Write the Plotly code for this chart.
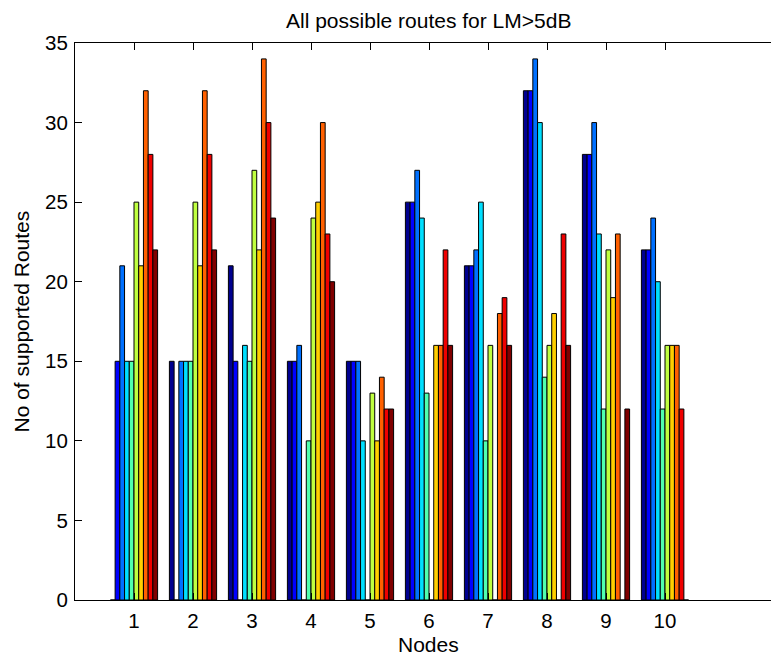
import plotly.graph_objects as go

nodes = [1, 2, 3, 4, 5, 6, 7, 8, 9, 10]
y_ticks = [0, 5, 10, 15, 20, 25, 30, 35]

# series k = routes to node k, one value per node (group)
series_1 = [0, 15, 21, 15, 15, 25, 21, 32, 28, 22]
series_2 = [15, 0, 15, 15, 15, 25, 21, 32, 28, 22]
series_3 = [21, 15, 0, 16, 15, 27, 22, 34, 30, 24]
series_4 = [15, 15, 16, 0, 10, 24, 25, 30, 23, 20]
series_5 = [15, 15, 15, 10, 0, 13, 10, 14, 12, 12]
series_6 = [25, 25, 27, 24, 13, 0, 16, 16, 22, 16]
series_7 = [21, 21, 22, 25, 10, 16, 0, 18, 19, 16]
series_8 = [32, 32, 34, 30, 14, 16, 18, 0, 23, 16]
series_9 = [28, 28, 30, 23, 12, 22, 19, 23, 0, 12]
series_10 = [22, 22, 24, 20, 12, 16, 16, 16, 12, 0]

all_series = [series_1, series_2, series_3, series_4, series_5,
              series_6, series_7, series_8, series_9, series_10]

# MATLAB jet colormap rows used for 10 series
jet_colors = ["rgb(0,0,143)", "rgb(0,0,255)", "rgb(0,112,255)", "rgb(0,223,255)",
              "rgb(80,255,175)", "rgb(191,255,64)", "rgb(255,207,0)", "rgb(255,96,0)",
              "rgb(239,0,0)", "rgb(128,0,0)"]

FONT = "Liberation Sans, Arial, Helvetica, sans-serif"
W, H = 771, 659
L, R, T, B = 75, 0, 43, 59
PW = W - L - R

fig = go.Figure()
for i, s in enumerate(all_series):
    fig.add_trace(go.Bar(
        x=nodes, y=s, name=f"Series {i+1}",
        marker=dict(color=jet_colors[i], line=dict(color="black", width=1)),
        showlegend=False,
    ))

fig.update_layout(
    width=W, height=H,
    margin=dict(l=L, r=R, t=T, b=B, autoexpand=False),
    barmode="group", bargap=0.2, bargroupgap=0,
    plot_bgcolor="white", paper_bgcolor="white",
    font=dict(family=FONT, size=20, color="black"),
)
fig.update_xaxes(
    range=[0, PW / 59], tickmode="array", tickvals=nodes,
    ticktext=[str(n) for n in nodes],
    ticks="inside", ticklen=7, tickcolor="black", tickwidth=1,
    showline=True, linecolor="black", linewidth=1, mirror="ticks",
    showgrid=False, zeroline=False, automargin=False,
    ticklabelstandoff=2,
    tickfont=dict(family=FONT, size=20.5),
)
fig.update_yaxes(
    range=[0, 35], tickmode="array", tickvals=y_ticks,
    ticks="inside", ticklen=7, tickcolor="black", tickwidth=1,
    showline=True, linecolor="black", linewidth=1, mirror=False,
    showgrid=False, zeroline=False, automargin=False, ticklabelstandoff=2,
    tickfont=dict(family=FONT, size=20.5),
)

fig.add_annotation(text="All possible routes for LM>5dB", xref="paper", yref="paper",
                   x=(428 - L) / PW, y=1, yshift=T - 20, xanchor="center", yanchor="middle",
                   showarrow=False, font=dict(family=FONT, size=21, color="black"))
fig.add_annotation(text="Nodes", xref="paper", yref="paper",
                   x=(428 - L) / PW, y=0, yshift=-(644 - (H - B)), xanchor="center",
                   yanchor="middle", showarrow=False,
                   font=dict(family=FONT, size=21, color="black"))
fig.add_annotation(text="No of supported Routes", xref="paper", yref="paper",
                   x=0, xshift=-(L - 21), y=0.5, xanchor="center", yanchor="middle",
                   textangle=-90, showarrow=False,
                   font=dict(family=FONT, size=21, color="black"))

fig.write_html("out.html", config={"displayModeBar": False},
               post_script="document.body.style.margin='0';document.body.style.overflow='hidden';")
